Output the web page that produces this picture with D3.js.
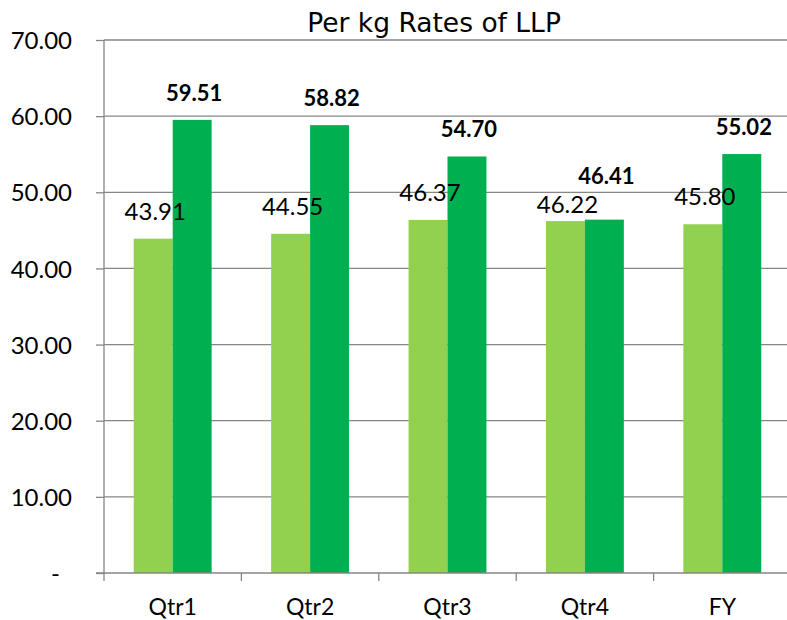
<!DOCTYPE html>
<html>
<head>
<meta charset="utf-8">
<script src="https://cdn.jsdelivr.net/npm/d3@7"></script>
<style>
  body { margin: 0; background: #fff; }
  svg { display: block; }
</style>
</head>
<body>
<div id="chart"></div>
<script>
// chart data
var categories = ['Qtr1', 'Qtr2', 'Qtr3', 'Qtr4', 'FY'];
var lightValues = [43.91, 44.55, 46.37, 46.22, 45.80];
var darkValues = [59.51, 58.82, 54.70, 46.41, 55.02];
var yTicks = [0, 10, 20, 30, 40, 50, 60, 70];
var titleText = 'Per kg Rates of LLP';

const width = 787;
const height = 620;
const plotLeft = 104, plotRight = 791, plotTop = 40, plotBottom = 573;
const numFont = 'Lato, "Open Sans", sans-serif';
const gridColor = '#868686';

let svg = d3.select('#chart')
    .append('svg')
    .attr('width', width)
    .attr('height', height);

const xScale = d3.scaleBand()
    .domain(categories)
    .range([plotLeft, plotRight])
    .paddingInner(0.433)
    .paddingOuter(0.2165);

const subScale = d3.scaleBand()
    .domain(['light', 'dark'])
    .range([0, xScale.bandwidth()]);

const yScale = d3.scaleLinear()
    .domain([0, 70])
    .range([plotBottom, plotTop]);

// gridlines
svg.append('g')
    .selectAll('line')
    .data(yTicks.filter((d) => d > 0))
    .enter()
    .append('line')
    .attr('x1', plotLeft)
    .attr('x2', plotRight)
    .attr('y1', (d) => yScale(d))
    .attr('y2', (d) => yScale(d))
    .attr('stroke', gridColor)
    .attr('stroke-width', 1.3);

// y axis (ticks + labels)
let yAxis = svg.append('g')
    .attr('transform', `translate(${plotLeft},0)`)
    .call(d3.axisLeft(yScale)
        .tickValues(yTicks)
        .tickSize(8)
        .tickPadding(24)
        .tickFormat((d) => d === 0 ? '-' : d3.format('.2f')(d)));
yAxis.select('.domain').remove();
yAxis.selectAll('line').attr('stroke', gridColor).attr('stroke-width', 1.3);
yAxis.selectAll('text')
    .attr('font-family', numFont)
    .attr('font-size', 24)
    .attr('fill', '#000')
    .attr('dy', '0.36em')
    .attr('dx', (d) => d === 0 ? -12 : 0);

// bars
const groups = svg.append('g')
    .selectAll('g')
    .data(categories)
    .enter()
    .append('g')
    .attr('transform', (d) => `translate(${xScale(d)},0)`);

groups.append('rect')
    .attr('x', subScale('light'))
    .attr('y', (d, i) => yScale(lightValues[i]))
    .attr('width', subScale.bandwidth())
    .attr('height', (d, i) => plotBottom - yScale(lightValues[i]))
    .attr('fill', '#92D050');

groups.append('rect')
    .attr('x', subScale('dark'))
    .attr('y', (d, i) => yScale(darkValues[i]))
    .attr('width', subScale.bandwidth())
    .attr('height', (d, i) => plotBottom - yScale(darkValues[i]))
    .attr('fill', '#00B050');

// axis lines on top of bars
svg.append('line')
    .attr('x1', plotLeft).attr('x2', plotLeft)
    .attr('y1', plotTop).attr('y2', plotBottom + 8)
    .attr('stroke', gridColor).attr('stroke-width', 1.3);
svg.append('line')
    .attr('x1', plotLeft - 8).attr('x2', plotRight)
    .attr('y1', plotBottom).attr('y2', plotBottom)
    .attr('stroke', gridColor).attr('stroke-width', 1.3);

// category boundary ticks
svg.append('g')
    .selectAll('line')
    .data(categories.slice(1))
    .enter()
    .append('line')
    .attr('x1', (d) => xScale(d) - xScale.step() * xScale.paddingInner() / 2)
    .attr('x2', (d) => xScale(d) - xScale.step() * xScale.paddingInner() / 2)
    .attr('y1', plotBottom)
    .attr('y2', plotBottom + 8)
    .attr('stroke', gridColor)
    .attr('stroke-width', 1.3);

// x labels
let xAxis = svg.append('g')
    .attr('transform', `translate(0,${plotBottom})`)
    .call(d3.axisBottom(xScale).tickSize(0).tickPadding(26));
xAxis.select('.domain').remove();
xAxis.selectAll('text')
    .attr('font-family', numFont)
    .attr('font-size', 23)
    .attr('fill', '#000');

// data labels, nudged apart when the pair would overlap
function labelShift(i) {
    const gap = yScale(lightValues[i]) - yScale(darkValues[i]);
    return Math.abs(gap) < 25 ? { dark: -16.5, light: 11 } : { dark: 0, light: 0 };
}

groups.append('text')
    .attr('x', subScale('light') + subScale.bandwidth() / 2 + 2)
    .attr('y', (d, i) => yScale(lightValues[i]) - 19 + labelShift(i).light)
    .attr('text-anchor', 'middle')
    .attr('font-family', numFont)
    .attr('font-size', 24)
    .attr('fill', '#000')
    .text((d, i) => lightValues[i].toFixed(2));

groups.append('text')
    .attr('x', subScale('dark') + subScale.bandwidth() / 2 + 2)
    .attr('y', (d, i) => yScale(darkValues[i]) - 19 + labelShift(i).dark)
    .attr('text-anchor', 'middle')
    .attr('font-family', numFont)
    .attr('font-weight', 'bold')
    .attr('font-size', 22)
    .attr('fill', '#000')
    .text((d, i) => darkValues[i].toFixed(2));

// title
svg.append('text')
    .attr('x', 434)
    .attr('y', 32)
    .attr('text-anchor', 'middle')
    .attr('font-family', '"DejaVu Sans", sans-serif')
    .attr('font-size', 26.5)
    .attr('fill', '#000')
    .text(titleText);
</script>
</body>
</html>
